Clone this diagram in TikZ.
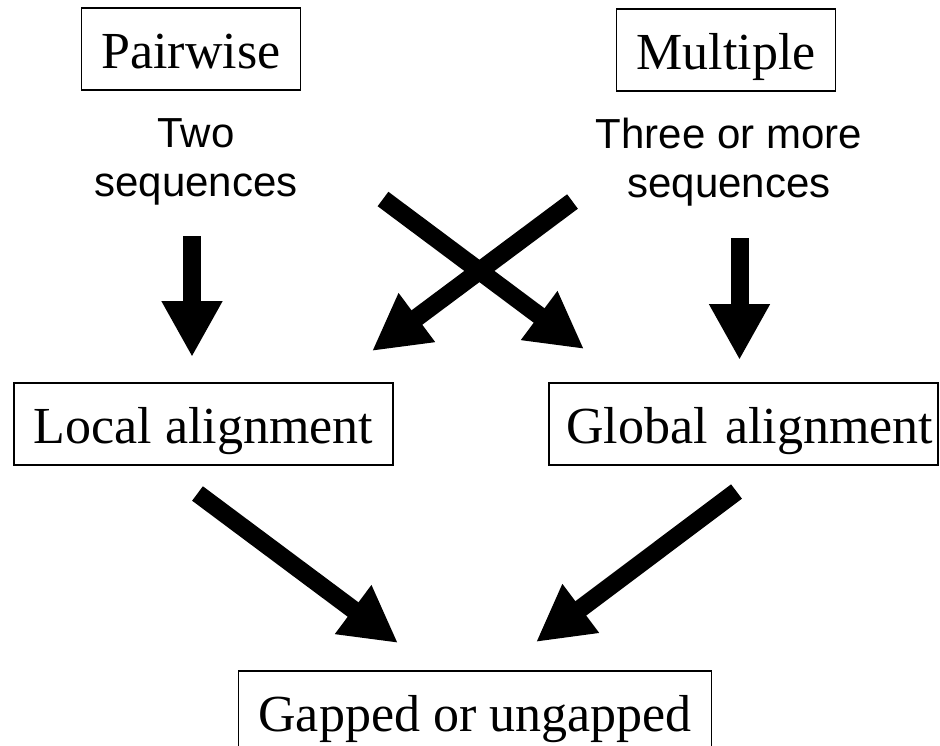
\documentclass[tikz,border=0pt]{standalone}
\usepackage{fontspec}
\setmainfont{Liberation Serif}
\setsansfont{Liberation Sans}
\usetikzlibrary{arrows.meta,positioning}
\tikzset{
  box/.style={draw, line width=1.5pt, font=\fontsize{52}{60}\selectfont,
    inner xsep=20pt, inner ysep=10pt, text height=50pt, text depth=12pt},
  note/.style={align=center, inner sep=0pt,
    font=\sffamily\fontsize{42}{49}\selectfont},
  fat/.style={line width=18pt, -{Triangle[length=56pt,width=57pt]}},
}

\begin{document}
\begin{tikzpicture}[x=1pt,y=-1pt]
\useasboundingbox (0,0) rectangle (940,745);

% top row
\node[box,anchor=base] (pair) at (191,68) {Pairwise};
\node[box,anchor=base] (multi) at (726,69) {Multiple};
\node[note] (two) at (196,162) {Two\\sequences};
\node[note] (three) at (729,162) {Three or more\\sequences};

% middle row
\node[box,anchor=base] (local) at (203.5,443) {Local alignment};
\node[box,anchor=base,inner xsep=5pt,text width=379pt,align=right] (global) at (743.5,443) {Global alignment};

% bottom
\node[box,anchor=base] (gapped) at (475,731) {Gapped or ungapped};

% arrow ends
\coordinate (two-out) at (192,236);
\coordinate (local-in) at (192,357);
\coordinate (three-out) at (739.5,238);
\coordinate (global-in) at (739.5,360);
\coordinate (two-cross) at (383,199);
\coordinate (global-cross) at (584,349);
\coordinate (three-cross) at (572.5,201.5);
\coordinate (local-cross) at (372,351);
\coordinate (local-out) at (197.5,493.5);
\coordinate (global-out) at (736.5,491.5);
\coordinate (gapped-left) at (398,643);
\coordinate (gapped-right) at (536,642);

\draw[fat] (two-out) -- (local-in);
\draw[fat] (three-out) -- (global-in);
\draw[fat] (two-cross) -- (global-cross);
\draw[fat] (three-cross) -- (local-cross);
\draw[fat] (local-out) -- (gapped-left);
\draw[fat] (global-out) -- (gapped-right);
\end{tikzpicture}
\end{document}
